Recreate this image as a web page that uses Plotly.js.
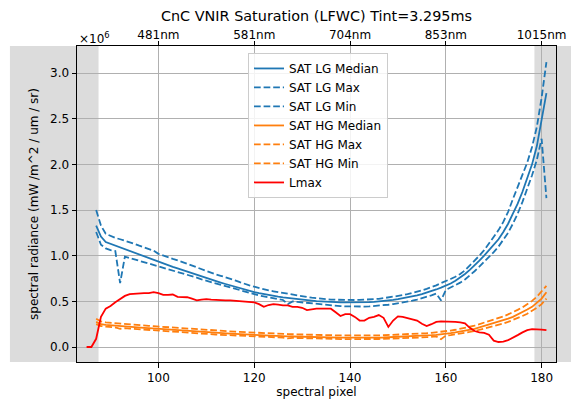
<!DOCTYPE html>
<html><head><meta charset="utf-8">
<script src="https://cdn.plot.ly/plotly-3.0.1.min.js"></script>
<style>html,body{margin:0;padding:0;background:#fff}</style>
</head><body><div id="chart" style="width:571px;height:401px"></div>
<script>
// spectral pixel index for the SAT series
const pixels = [87,88,89,90,91,92,93,94,95,96,97,98,99,100,101,102,103,104,105,106,107,108,109,110,111,112,113,114,115,116,117,118,119,120,121,122,123,124,125,126,127,128,129,130,131,132,133,134,135,136,137,138,139,140,141,142,143,144,145,146,147,148,149,150,151,152,153,154,155,156,157,158,159,160,161,162,163,164,165,166,167,168,169,170,171,172,173,174,175,176,177,178,179,180,181];
// spectral pixel index for Lmax
const lmaxPixels = [85,86,87,88,89,90,91,92,93,94,95,96,97,98,99,100,101,102,103,104,105,106,107,108,109,110,111,112,113,114,115,116,117,118,119,120,121,122,123,124,125,126,127,128,129,130,131,132,133,134,135,136,137,138,139,140,141,142,143,144,145,146,147,148,149,150,151,152,153,154,155,156,157,158,159,160,161,162,163,164,165,166,167,168,169,170,171,172,173,174,175,176,177,178,179,180,181];

// values in units of 1e6 (mW /m^2 / um / sr)
const lgMedian = [1.33,1.21,1.15,1.13,1.11,1.095,1.075,1.055,1.035,1.015,
0.995,0.975,0.955,0.935,0.915,0.895,0.877,0.86,0.842,0.825,
0.808,0.79,0.773,0.756,0.739,0.722,0.706,0.69,0.674,0.658,
0.643,0.628,0.614,0.601,0.589,0.578,0.568,0.559,0.551,0.543,
0.536,0.529,0.523,0.518,0.513,0.508,0.503,0.499,0.496,0.493,
0.491,0.489,0.488,0.487,0.487,0.488,0.489,0.491,0.494,0.498,
0.503,0.509,0.516,0.524,0.533,0.543,0.554,0.566,0.58,0.595,
0.612,0.63,0.65,0.67,0.695,0.725,0.76,0.80,0.845,0.89,
0.945,1.00,1.06,1.115,1.18,1.26,1.35,1.46,1.57,1.70,
1.84,2.00,2.20,2.48,2.78];
const lgMax = [1.50,1.33,1.24,1.215,1.195,1.18,1.165,1.15,1.13,1.11,
1.09,1.07,1.055,1.02,1.00,0.98,0.965,0.95,0.93,0.91,
0.89,0.87,0.85,0.83,0.81,0.795,0.78,0.765,0.75,0.73,
0.71,0.69,0.675,0.66,0.645,0.63,0.62,0.61,0.60,0.59,
0.58,0.575,0.565,0.555,0.548,0.54,0.533,0.528,0.524,0.52,
0.518,0.516,0.515,0.515,0.515,0.516,0.518,0.52,0.524,0.528,
0.535,0.542,0.55,0.558,0.568,0.58,0.592,0.605,0.62,0.637,
0.655,0.675,0.70,0.72,0.745,0.77,0.80,0.84,0.89,0.94,
1.00,1.06,1.13,1.20,1.28,1.37,1.48,1.62,1.75,1.88,
2.02,2.19,2.41,2.73,3.12];
const lgMin = [1.26,1.12,1.08,1.06,1.05,0.70,0.99,0.975,0.96,0.945,
0.93,0.915,0.895,0.88,0.865,0.85,0.835,0.82,0.805,0.79,
0.775,0.76,0.74,0.725,0.71,0.695,0.68,0.665,0.65,0.635,
0.62,0.605,0.59,0.575,0.565,0.555,0.545,0.535,0.525,0.515,
0.47,0.50,0.494,0.488,0.482,0.476,0.47,0.465,0.46,0.456,
0.452,0.448,0.445,0.443,0.442,0.442,0.443,0.445,0.448,0.452,
0.457,0.463,0.47,0.478,0.487,0.497,0.508,0.52,0.533,0.548,
0.565,0.585,0.51,0.625,0.65,0.675,0.705,0.74,0.78,0.83,
0.88,0.93,0.985,1.04,1.10,1.17,1.25,1.35,1.46,1.59,
1.73,1.88,2.05,2.28,1.63];
const hgMedian = [0.275,0.25,0.243,0.238,0.234,0.23,0.226,0.222,0.218,0.214,
0.21,0.206,0.202,0.198,0.194,0.19,0.186,0.182,0.178,0.175,
0.171,0.168,0.164,0.161,0.158,0.155,0.152,0.149,0.146,0.143,
0.14,0.137,0.135,0.132,0.13,0.127,0.125,0.123,0.121,0.119,
0.117,0.115,0.113,0.112,0.11,0.109,0.107,0.106,0.105,0.104,
0.103,0.102,0.102,0.101,0.101,0.101,0.101,0.102,0.102,0.103,
0.104,0.106,0.107,0.109,0.111,0.114,0.116,0.119,0.122,0.126,
0.13,0.134,0.138,0.145,0.152,0.16,0.168,0.178,0.19,0.20,
0.215,0.23,0.245,0.26,0.275,0.29,0.31,0.33,0.355,0.38,
0.41,0.44,0.48,0.53,0.60];
const hgMax = [0.31,0.28,0.27,0.265,0.26,0.256,0.252,0.248,0.244,0.24,
0.236,0.232,0.228,0.224,0.22,0.216,0.212,0.208,0.204,0.2,
0.196,0.193,0.189,0.186,0.183,0.18,0.177,0.174,0.171,0.168,
0.165,0.162,0.16,0.157,0.155,0.152,0.15,0.148,0.146,0.144,
0.142,0.14,0.138,0.137,0.135,0.134,0.132,0.131,0.13,0.129,
0.128,0.127,0.127,0.126,0.126,0.126,0.126,0.127,0.127,0.128,
0.129,0.131,0.132,0.134,0.136,0.139,0.141,0.144,0.148,0.152,
0.156,0.16,0.165,0.172,0.18,0.189,0.198,0.209,0.222,0.234,
0.25,0.267,0.284,0.30,0.318,0.335,0.357,0.38,0.407,0.435,
0.47,0.505,0.55,0.61,0.67];
const hgMin = [0.25,0.23,0.223,0.218,0.214,0.20,0.206,0.202,0.198,0.194,
0.19,0.186,0.182,0.178,0.174,0.17,0.166,0.163,0.159,0.156,
0.152,0.149,0.146,0.143,0.14,0.137,0.134,0.131,0.128,0.126,
0.123,0.12,0.118,0.115,0.113,0.111,0.109,0.107,0.105,0.103,
0.095,0.1,0.098,0.096,0.095,0.094,0.092,0.091,0.09,0.089,
0.088,0.087,0.087,0.086,0.086,0.086,0.086,0.087,0.087,0.088,
0.089,0.09,0.092,0.093,0.095,0.097,0.099,0.102,0.105,0.108,
0.112,0.116,0.085,0.125,0.131,0.138,0.145,0.154,0.165,0.175,
0.188,0.202,0.215,0.229,0.243,0.257,0.275,0.295,0.316,0.34,
0.365,0.395,0.43,0.47,0.53];
const lmax = [0.00,0.00,0.09,0.33,0.42,0.45,0.49,0.53,0.56,0.58,
0.585,0.585,0.59,0.59,0.60,0.59,0.57,0.57,0.575,0.55,
0.545,0.545,0.53,0.51,0.52,0.525,0.52,0.515,0.51,0.51,
0.51,0.505,0.50,0.495,0.49,0.49,0.47,0.44,0.46,0.47,
0.465,0.455,0.455,0.44,0.44,0.43,0.405,0.415,0.42,0.42,
0.42,0.42,0.38,0.34,0.36,0.36,0.33,0.29,0.29,0.32,
0.33,0.35,0.32,0.22,0.29,0.335,0.33,0.315,0.305,0.29,
0.255,0.23,0.25,0.275,0.28,0.28,0.28,0.275,0.27,0.26,
0.21,0.175,0.16,0.155,0.135,0.07,0.055,0.06,0.075,0.10,
0.13,0.16,0.185,0.195,0.195,0.19,0.185];

// axis ticks
const pixelTicks = [100,120,140,160,180];
const wavelengthLabels = ['481nm','581nm','704nm','853nm','1015nm'];
const yTicks = [0,0.5,1.0,1.5,2.0,2.5,3.0];

const BLUE = '#1f77b4', ORANGE = '#ff7f0e', RED = '#ff0000';
const DASH = '6.7px,2.9px';
const LW = 1.8;

function tr(x, y, name, color, dash) {
  return {x: x, y: y, name: name, type: 'scatter', mode: 'lines',
    line: {color: color, width: LW, dash: dash || 'solid'}, hoverinfo: 'skip'};
}

const data = [
  tr(pixels, lgMedian, 'SAT LG Median', BLUE),
  tr(pixels, lgMax, 'SAT LG Max', BLUE, DASH),
  tr(pixels, lgMin, 'SAT LG Min', BLUE, DASH),
  tr(pixels, hgMedian, 'SAT HG Median', ORANGE),
  tr(pixels, hgMax, 'SAT HG Max', ORANGE, DASH),
  tr(pixels, hgMin, 'SAT HG Min', ORANGE, DASH),
  tr(lmaxPixels, lmax, 'Lmax', RED),
  // carrier for the top (wavelength) axis: no visible marks
  {x: pixelTicks, y: pixelTicks.map(() => null), xaxis: 'x2', yaxis: 'y', type: 'scatter',
    mode: 'lines', showlegend: false, hoverinfo: 'skip', line: {width: 0}}
];

const FONT = 'DejaVu Sans, Verdana, sans-serif';
const axisCommon = {
  showline: true, linecolor: '#000', linewidth: 1,
  ticks: 'outside', ticklen: 4.5, tickwidth: 1, tickcolor: '#000',
  zeroline: false, tickfont: {family: FONT, size: 12, color: '#000'}
};

const layout = {
  width: 571, height: 401,
  margin: {l: 77, r: 15, t: 46, b: 39, pad: 0},
  paper_bgcolor: '#fff', plot_bgcolor: 'rgba(0,0,0,0)',
  font: {family: FONT, size: 12, color: '#000'},
  showlegend: true,
  title: {text: 'CnC VNIR Saturation (LFWC) Tint=3.295ms', font: {family: FONT, size: 14.4, color: '#000'},
    x: 0.5, xref: 'paper', xanchor: 'center', y: 0.96, yref: 'container', yanchor: 'middle'},
  xaxis: Object.assign({}, axisCommon, {
    range: [83, 183], tickmode: 'array', tickvals: pixelTicks,
    showgrid: true, gridcolor: '#b0b0b0', gridwidth: 1, mirror: false,
    title: {text: 'spectral pixel', font: {family: FONT, size: 12, color: '#000'}, standoff: 3}
  }),
  xaxis2: Object.assign({}, axisCommon, {
    overlaying: 'x', side: 'top', anchor: 'y', range: [83, 183],
    tickmode: 'array', tickvals: pixelTicks, ticktext: wavelengthLabels,
    showgrid: false, ticklabelstandoff: -3
  }),
  yaxis: Object.assign({}, axisCommon, {
    range: [-0.164, 3.296], tickmode: 'array', tickvals: yTicks,
    ticktext: yTicks.map(v => v.toFixed(1)),
    showgrid: true, gridcolor: '#b0b0b0', gridwidth: 1, mirror: true,
    title: {text: 'spectral radiance (mW /m^2 / um / sr)', font: {family: FONT, size: 12, color: '#000'}, standoff: 8}
  }),
  legend: {
    x: 0.357, y: 0.978, xanchor: 'left', yanchor: 'top',
    bgcolor: 'rgba(255,255,255,0.85)', bordercolor: '#cccccc', borderwidth: 1,
    font: {family: FONT, size: 12, color: '#000'}, tracegroupgap: 0
  },
  shapes: [
    {type: 'rect', xref: 'paper', yref: 'paper', x0: -0.14, x1: 0.045, y0: 0, y1: 1,
      fillcolor: '#dcdcdc', line: {width: 0}, layer: 'below'},
    {type: 'rect', xref: 'paper', yref: 'paper', x0: 0.955, x1: 1.05, y0: 0, y1: 1,
      fillcolor: '#dcdcdc', line: {width: 0}, layer: 'below'}
  ],
  annotations: [
    {text: '×10<sup>6</sup>', xref: 'paper', yref: 'paper', x: 0, y: 1.025,
      xanchor: 'left', yanchor: 'middle', showarrow: false,
      font: {family: FONT, size: 12, color: '#000'}}
  ]
};

Plotly.newPlot('chart', data, layout, {displayModeBar: false, staticPlot: true});
</script>
</body></html>
